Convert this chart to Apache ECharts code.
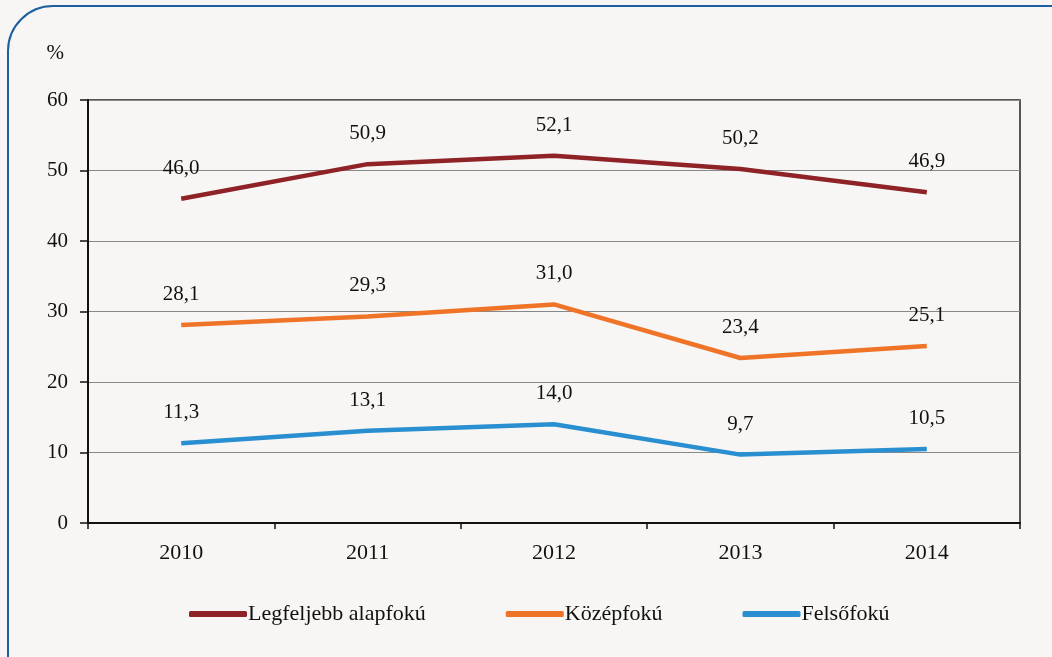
<!DOCTYPE html>
<html>
<head>
<meta charset="utf-8">
<script src="https://cdn.jsdelivr.net/npm/echarts@6/dist/echarts.min.js"></script>
<style>
  html, body { margin: 0; padding: 0; background: #f7f6f4; }
  #chart { width: 1052px; height: 657px; }
</style>
</head>
<body>
<div id="chart"></div>
<script>
const years = ['2010', '2011', '2012', '2013', '2014'];
const seriesNames = ['Legfeljebb alapfokú', 'Középfokú', 'Felsőfokú'];
const alapfoku = [46.0, 50.9, 52.1, 50.2, 46.9];
const kozepfoku = [28.1, 29.3, 31.0, 23.4, 25.1];
const felsofoku = [11.3, 13.1, 14.0, 9.7, 10.5];
const colors = ['#8e2226', '#f07428', '#2a8fd0'];

const font = '"Liberation Serif", "DejaVu Serif", serif';
const myChart = echarts.init(document.getElementById('chart'));

function makeSeries(name, data, color) {
  return {
    name: name,
    type: 'line',
    data: data,
    symbol: 'circle',
    symbolSize: 0,
    showSymbol: true,
    lineStyle: { width: 4.5, color: color },
    itemStyle: { color: color },
    label: {
      show: true,
      position: 'top',
      distance: 20,
      color: '#111',
      fontFamily: font,
      fontSize: 21,
      formatter: p => p.value.toFixed(1).replace('.', ',')
    }
  };
}

const option = {
  backgroundColor: '#f7f6f4',
  animation: false,
  textStyle: { fontFamily: font },
  graphic: [{
    type: 'rect',
    shape: { x: 8, y: 6, width: 1090, height: 720, r: 45 },
    style: { fill: 'none', stroke: '#1d5f9f', lineWidth: 2 },
    silent: true
  }],
  grid: {
    left: 88, right: 32, top: 100, bottom: 134,
    show: true,
    borderColor: '#222',
    borderWidth: 1.5,
    backgroundColor: 'transparent'
  },
  legend: {
    bottom: 27,
    left: 184,
    itemWidth: 58,
    itemHeight: 6,
    itemGap: 80,
    icon: 'roundRect',
    textStyle: { fontFamily: font, fontSize: 22, color: '#111', padding: [0, 0, 0, -4] },
    data: seriesNames
  },
  xAxis: {
    type: 'category',
    data: years,
    boundaryGap: true,
    axisLine: { lineStyle: { color: '#111', width: 2 } },
    axisTick: { show: true, length: 6, lineStyle: { color: '#111', width: 1.5 } },
    axisLabel: { color: '#111', fontFamily: font, fontSize: 22, margin: 19 }
  },
  yAxis: {
    type: 'value',
    min: 0,
    max: 60,
    interval: 10,
    name: '%',
    nameLocation: 'end',
    nameGap: 36,
    nameTextStyle: { color: '#111', fontFamily: font, fontSize: 21, align: 'right', padding: [0, 24, 0, 0] },
    axisLine: { show: true, lineStyle: { color: '#111', width: 2 } },
    axisTick: { show: true, length: 8, lineStyle: { color: '#111', width: 1.5 } },
    axisLabel: { color: '#111', fontFamily: font, fontSize: 21, margin: 20 },
    splitLine: { show: true, lineStyle: { color: '#888', width: 1 } }
  },
  series: [
    makeSeries(seriesNames[0], alapfoku, colors[0]),
    makeSeries(seriesNames[1], kozepfoku, colors[1]),
    makeSeries(seriesNames[2], felsofoku, colors[2])
  ]
};

myChart.setOption(option);
window.addEventListener('resize', function () {
  myChart && myChart.resize();
});
</script>
</body>
</html>
